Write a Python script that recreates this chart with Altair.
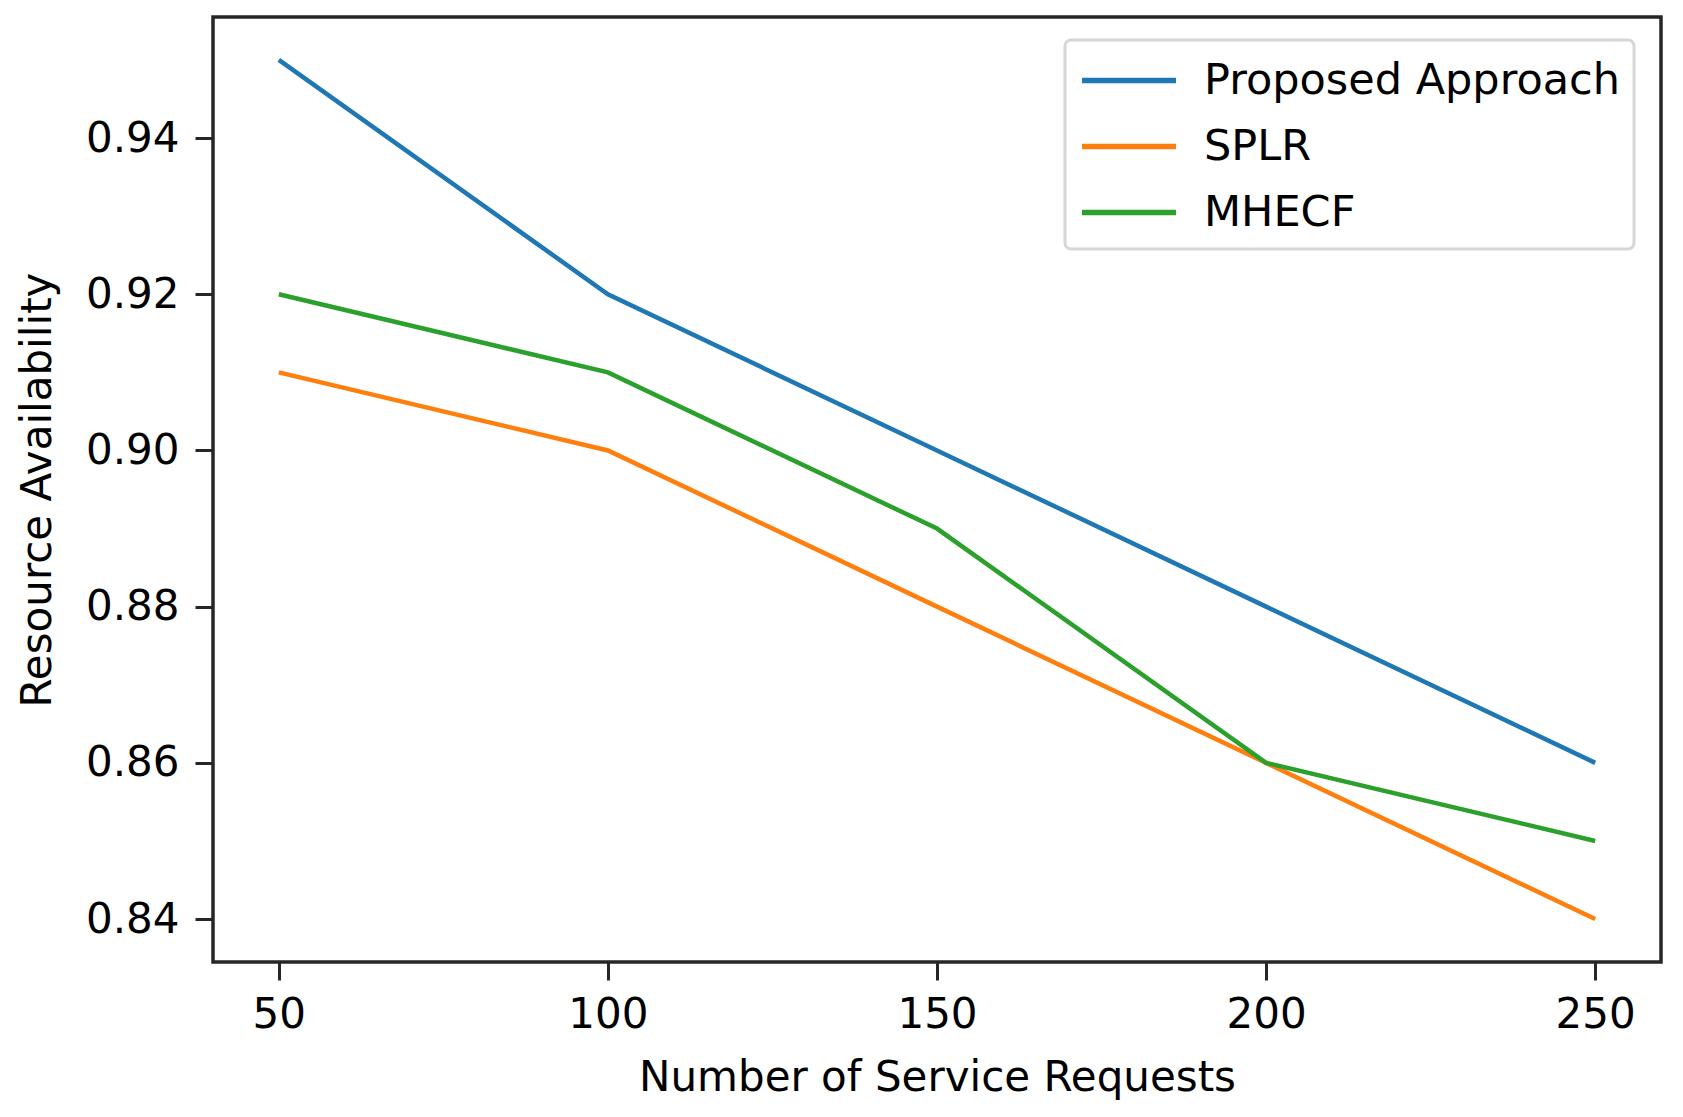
import altair as alt
import pandas as pd

requests = [50, 100, 150, 200, 250]
proposed = [0.95, 0.92, 0.90, 0.88, 0.86]
splr = [0.91, 0.90, 0.88, 0.86, 0.84]
mhecf = [0.92, 0.91, 0.89, 0.86, 0.85]
series_names = ["Proposed Approach", "SPLR", "MHECF"]
series_colors = ["#1f77b4", "#ff7f0e", "#2ca02c"]
x_ticks = [50, 100, 150, 200, 250]
y_ticks = [0.84, 0.86, 0.88, 0.90, 0.92, 0.94]

rows = []
for name, vals in zip(series_names, [proposed, splr, mhecf]):
    for i, (x, y) in enumerate(zip(requests, vals)):
        rows.append({"x": x, "y": y, "series": name, "order": i})
df = pd.DataFrame(rows)

FONT = "DejaVu Sans"
FS = 42

chart = alt.Chart(df).mark_line(strokeWidth=4.5, clip=True).encode(
    x=alt.X("x:Q",
            scale=alt.Scale(domain=[40, 260], nice=False, zero=False),
            axis=alt.Axis(values=x_ticks, title="Number of Service Requests",
                          grid=False, tickSize=18, tickWidth=3, tickColor="#262626",
                          domain=False, labelFontSize=FS, labelFont=FONT,
                          labelColor="#000000", labelPadding=14,
                          titleFontSize=FS, titleFont=FONT, titleFontWeight="normal",
                          titleColor="#000000", titleBaseline="alphabetic",
                          titleY=128, labelFlush=False)),
    y=alt.Y("y:Q",
            scale=alt.Scale(domain=[0.8345, 0.9555], nice=False, zero=False),
            axis=alt.Axis(values=y_ticks, format=".2f", title="Resource Availability",
                          grid=False, tickSize=18, tickWidth=3, tickColor="#262626",
                          domain=False, labelFontSize=FS, labelFont=FONT,
                          labelColor="#000000", labelPadding=16,
                          titleFontSize=FS, titleFont=FONT, titleFontWeight="normal",
                          titleColor="#000000", titleBaseline="alphabetic",
                          titleAngle=270, titleX=-163, labelFlush=False)),
    color=alt.Color("series:N",
                    scale=alt.Scale(domain=series_names, range=series_colors),
                    sort=series_names,
                    legend=alt.Legend(title=None, orient="none", legendX=852, legendY=23,
                                      symbolType="M-1,0H3", symbolSize=2209,
                                      symbolStrokeWidth=5.5, labelFontSize=43,
                                      labelFont=FONT, labelColor="#000000",
                                      labelOffset=72, rowPadding=17, padding=14,
                                      strokeColor="#d6d6d6", fillColor="#ffffff",
                                      cornerRadius=6, labelLimit=1000)),
    order="order:O",
).properties(
    width=1448, height=945,
    autosize=alt.AutoSizeParams(type="none"),
    padding={"left": 205, "top": 9, "right": 10, "bottom": 150},
).configure_view(
    stroke="#262626", strokeWidth=3.5
).configure_legend(
    strokeWidth=3
)

chart.save("out.html", embed_options={"renderer": "svg", "actions": False})
